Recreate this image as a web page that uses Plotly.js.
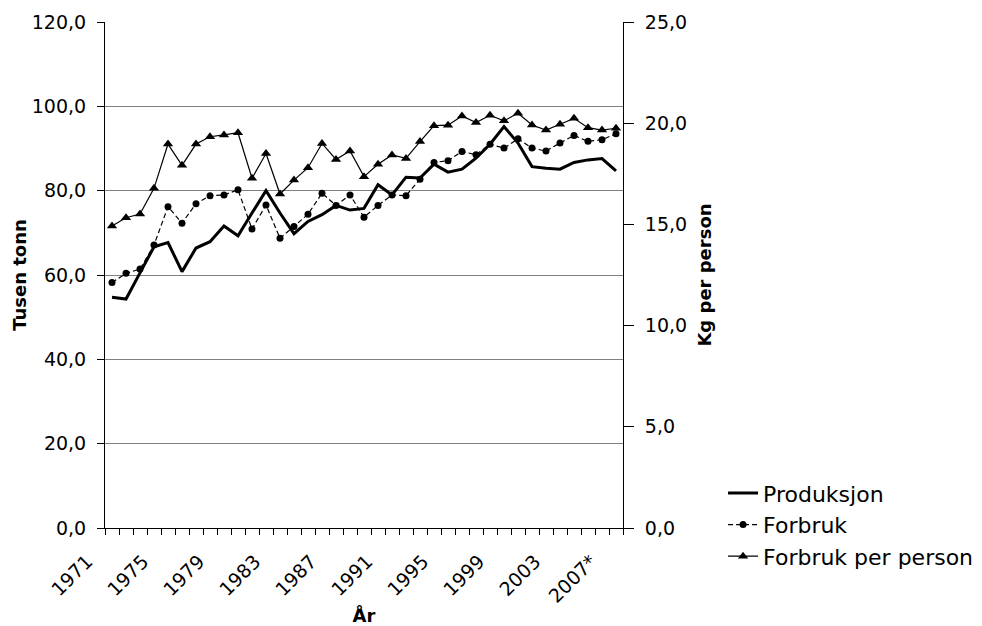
<!DOCTYPE html>
<html>
<head>
<meta charset="utf-8">
<script src="https://cdn.plot.ly/plotly-3.0.1.min.js"></script>
<style>html,body{margin:0;padding:0;background:#fff;}#chart{width:982px;height:626px;}</style>
</head>
<body>
<div id="chart"></div>
<script>
// Years (x categories)
const years = [1971,1972,1973,1974,1975,1976,1977,1978,1979,1980,1981,1982,1983,1984,1985,1986,1987,1988,1989,1990,1991,1992,1993,1994,1995,1996,1997,1998,1999,2000,2001,2002,2003,2004,2005,2006,2007];
const tickYears = [1971,1975,1979,1983,1987,1991,1995,1999,2003,2007];
const tickLabels = ["1971","1975","1979","1983","1987","1991","1995","1999","2003","2007*"];

// Produksjon (tusen tonn, left axis)
const produksjon = [54.7,54.3,60.5,66.7,67.7,60.8,66.4,67.9,71.6,69.3,74.7,80.0,74.7,69.8,72.7,74.3,76.5,75.4,75.8,81.4,79.0,83.2,83.0,86.3,84.4,85.1,87.7,91.0,95.2,91.3,85.7,85.3,85.1,86.7,87.3,87.6,84.7];
// Forbruk (tusen tonn, left axis)
const forbruk = [58.2,60.4,61.4,67.1,76.2,72.3,76.9,78.8,79.0,80.2,70.9,76.6,68.7,71.5,74.4,79.4,76.5,79.0,73.7,76.5,79.0,78.8,82.7,86.7,87.1,89.3,88.5,91.0,90.1,92.3,90.1,89.4,91.3,93.1,91.7,92.1,93.5];
// Forbruk per person (kg, right axis)
const perPerson = [14.92,15.33,15.51,16.78,18.97,17.92,18.97,19.33,19.42,19.53,17.28,18.5,16.50,17.19,17.80,19.0,18.21,18.63,17.36,17.97,18.43,18.26,19.09,19.88,19.90,20.36,20.03,20.39,20.12,20.49,19.91,19.66,19.95,20.24,19.78,19.66,19.75];

const FONT = "DejaVu Sans, Liberation Sans, Arial, sans-serif";

const traces = [
  {x: years, y: produksjon, name: "Produksjon", type: "scatter", mode: "lines",
   line: {color: "#000", width: 3}, yaxis: "y"},
  {x: years, y: forbruk, name: "Forbruk", type: "scatter", mode: "lines+markers",
   line: {color: "#000", width: 1.2, dash: "5px,3px"}, marker: {symbol: "circle", size: 7, color: "#000"}, yaxis: "y"},
  {x: years, y: perPerson, name: "Forbruk per person", type: "scatter", mode: "lines+markers",
   line: {color: "#000", width: 1.2}, marker: {symbol: "triangle-up", size: 9, color: "#000"}, yaxis: "y2"}
];

const layout = {
  width: 982, height: 626,
  margin: {l: 105, r: 359, t: 22, b: 98, autoexpand: false},
  paper_bgcolor: "#fff", plot_bgcolor: "#fff",
  font: {family: FONT, color: "#000", size: 18},
  showlegend: true,
  legend: {xref: "container", yref: "container", x: 0.7363, y: 0.2458, xanchor: "left", yanchor: "top",
           font: {family: FONT, size: 22, color: "#000"}, bgcolor: "rgba(0,0,0,0)"},
  xaxis: {
    range: [years[0] - 0.5, years[years.length - 1] + 0.5],
    tickmode: "array", tickvals: tickYears, ticktext: tickLabels,
    tickangle: -45, ticks: "", ticklabelshift: -25, ticklabelstandoff: 14,
    tickfont: {family: FONT, size: 19, color: "#000"},
    minor: {tickmode: "linear", tick0: years[0] - 0.5, dtick: 1, ticks: "outside", ticklen: 6, tickcolor: "#000", showgrid: false},
    showgrid: false, zeroline: false,
    showline: true, linecolor: "#000", linewidth: 1,
    title: {text: "<b>År</b>", font: {family: FONT, size: 18, color: "#000"}, standoff: 11}
  },
  yaxis: {
    range: [0, 120], dtick: 20, tick0: 0, tickformat: ".1f",
    ticks: "outside", ticklen: 7, tickcolor: "#000", ticklabelstandoff: 7,
    showgrid: true, gridcolor: "#808080", gridwidth: 1,
    zeroline: false, showline: true, linecolor: "#000", linewidth: 1,
    tickfont: {family: FONT, size: 19, color: "#000"},
    title: {text: "<b>Tusen tonn</b>", font: {family: FONT, size: 18, color: "#000"}, standoff: 0}
  },
  yaxis2: {
    range: [0, 25], dtick: 5, tick0: 0, tickformat: ".1f",
    overlaying: "y", side: "right",
    ticks: "outside", ticklen: 10, tickcolor: "#000", ticklabelstandoff: 7,
    showgrid: false, zeroline: false, showline: true, linecolor: "#000", linewidth: 1,
    tickfont: {family: FONT, size: 19, color: "#000"},
    title: {text: "<b>Kg per person</b>", font: {family: FONT, size: 18, color: "#000"}, standoff: 12}
  },
  separators: ", "
};

Plotly.newPlot("chart", traces, layout, {displayModeBar: false, staticPlot: true});
</script>
</body>
</html>
